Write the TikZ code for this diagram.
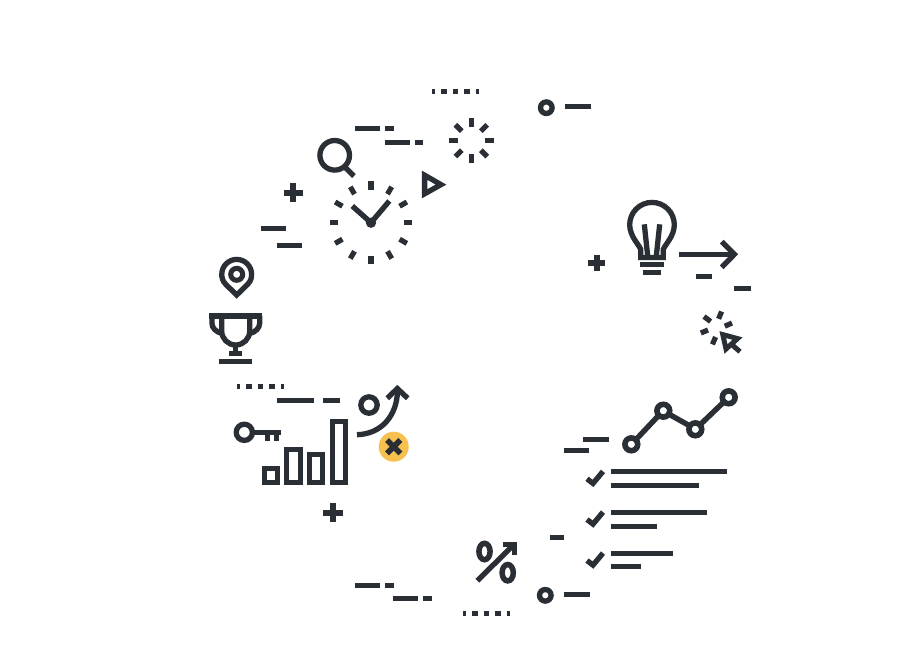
\documentclass[tikz,border=0pt]{standalone}
\definecolor{inkc}{HTML}{2A2E35}
\definecolor{goldc}{HTML}{F7C14F}
\tikzset{
  icon/.style={draw=inkc,line width=5.3pt,fill=none,line cap=butt,line join=miter},
  bar/.style={draw=inkc,line width=5.2pt,line cap=butt},
}
\begin{document}
\begin{tikzpicture}[x=1pt,y=-1pt]
\useasboundingbox[fill=white] (0,0) rectangle (904,654);
% dotted rows
\foreach \y/\x in {91.5/432, 386.5/237, 613.5/463}{
  \foreach \a/\b in {0/2.6, 9/14.7, 20.6/26.3, 32.3/38, 44/46.8}{
    \draw[bar] (\x+\a,\y) -- (\x+\b,\y);
  }
}
% dashes
\draw[bar] (355,128.5) -- (380.3,128.5);
\draw[bar] (385.3,128.5) -- (393.7,128.5);
\draw[bar] (384.7,142.5) -- (410,142.5);
\draw[bar] (415,142.5) -- (423.3,142.5);
\draw[bar] (261,228.5) -- (286.3,228.5);
\draw[bar] (276.7,245.5) -- (302,245.5);
\draw[bar] (276.7,400.5) -- (313.7,400.5);
\draw[bar] (323.3,400.5) -- (340,400.5);
\draw[bar] (565,106.5) -- (591.3,106.5);
\draw[bar] (695.7,276.5) -- (712.3,276.5);
\draw[bar] (734.3,288.5) -- (751,288.5);
\draw[bar] (583.3,439.5) -- (609.3,439.5);
\draw[bar] (563.7,450.5) -- (589.3,450.5);
\draw[bar] (550.3,537.5) -- (563.7,537.5);
\draw[bar] (563.7,594.5) -- (590,594.5);
\draw[bar] (355,585.5) -- (380.3,585.5);
\draw[bar] (385.3,585.5) -- (394,585.5);
\draw[bar] (392.7,598.5) -- (418,598.5);
\draw[bar] (423.3,598.5) -- (431.7,598.5);
% plus signs
\draw[icon,line width=6pt] (283.6,192.7) -- (303,192.7) (293.3,183) -- (293.3,202.4);
\draw[icon,line width=6pt] (323.3,512.7) -- (342.7,512.7) (333,503) -- (333,522.4);
\draw[icon,line width=5.6pt] (588.4,263) -- (605,263) (596.7,254.7) -- (596.7,271.3);
% burst
\foreach \a in {0,45,...,315}{
  \draw[bar] (471.3,140.7) ++(\a:13.5) -- ++(\a:9);
}
% magnifier
\draw[icon] (334.7,155.3) circle (14.8);
\draw[icon] (345,167.3) -- (354,176);
% clock
\foreach \a in {0,30,...,330}{
  \draw[bar] (371,222.7) ++(\a:33) -- ++(\a:8.4);
}
\draw[icon] (352.3,206) -- (371,222.7) -- (389.3,201);
\fill[inkc] (371,222.7) circle (5.2);
% triangle
\draw[icon] (424.6,175.2) -- (441,184.6) -- (424.6,193.8) -- cycle;
% pin
\draw[icon] (236.7,295) -- (226,284.6) .. controls (222,280.5) and (221.8,277) .. (221.8,274.3)
  arc[start angle=180,end angle=360,radius=14.9] .. controls (251.6,277) and (251.4,280.5) .. (247.4,284.6) -- cycle;
\draw[icon,line width=5pt] (236.7,274.3) circle (6);
% trophy
\draw[icon] (209.3,316) -- (262.3,316);
\draw[icon] (221.7,316) -- (221.7,331) arc[start angle=180,end angle=0,radius=14] -- (249.7,316);
\draw[icon] (211.9,316) -- (211.9,323) .. controls (211.9,328) and (216,332) .. (222,333.5);
\draw[icon] (259.7,316) -- (259.7,323) .. controls (259.7,328) and (255.7,332) .. (249.7,333.5);
\draw[icon,line width=5pt] (235.7,345) -- (235.7,352);
\draw[bar] (229.3,353.5) -- (242.3,353.5);
\draw[bar] (219.3,361.5) -- (251.7,361.5);
% key
\draw[icon] (244.3,432.3) circle (8.1);
\draw[icon] (252.5,432.3) -- (281,432.3);
\draw[icon] (267.5,432.3) -- (267.5,440.7);
\draw[icon] (276.5,432.3) -- (276.5,440.7);
% bars
\draw[icon,line width=5pt] (264.5,468.5) rectangle (277.5,482.5);
\draw[icon,line width=5pt] (286.5,449.5) rectangle (300.5,482.5);
\draw[icon,line width=5pt] (309.5,454.5) rectangle (322.5,482.5);
\draw[icon,line width=5pt] (332.5,421.5) rectangle (345.5,482.5);
% growth arrow
\draw[icon] (369,405) circle (8.2);
\draw[icon] (357,434.7) .. controls (382,434) and (397,415) .. (397.5,391);
\draw[icon] (387.3,398.3) -- (397.3,388.5) -- (407.7,398.3);
\fill[goldc] (393.7,446.7) circle (15);
\draw[icon,line width=5.6pt] (387,440) -- (400.4,453.4) (387,453.4) -- (400.4,440);
% top circle and bottom circle
\draw[icon] (546.3,107.7) circle (5.8);
\draw[icon] (545.3,595.3) circle (5.8);
% bulb
\draw[icon] (640.8,257.5) -- (640.8,249.5) .. controls (638.5,244) and (629.7,236) .. (629.7,224.7)
  arc[start angle=180,end angle=360,radius=22.3]
  .. controls (674.3,236) and (665.5,244) .. (663.2,249.5) -- (663.2,257.5) -- cycle;
\draw[icon] (644.3,224.3) -- (647.7,256);
\draw[icon] (659.7,224.3) -- (656.3,256);
\draw[bar] (640,264.5) -- (664,264.5);
\draw[bar] (643,272.5) -- (661,272.5);
% arrow
\draw[icon] (679.3,254.5) -- (734,254.5);
\draw[icon] (721.7,241.7) -- (734.4,254.3) -- (721.7,267.3);
% cursor
\draw[icon,line width=5pt] (722.8,334.6) -- (737.5,338.6) -- (726,349) -- cycle;
\draw[icon,line width=5pt] (730,343) -- (740,351.7);
\draw[bar] (704,316.5) -- (710.6,321.5);
\draw[bar] (721.6,311.5) -- (718.6,318.8);
\draw[bar] (732,323) -- (724.8,326.2);
\draw[bar] (708,330) -- (700.8,333);
\draw[bar] (715.6,337) -- (712.4,344.4);
% chart
\draw[icon,line width=5.4pt] (636,439.5) -- (658.8,415.3);
\draw[icon,line width=5.4pt] (668.7,414) -- (690,426);
\draw[icon,line width=5.4pt] (700,424.8) -- (724,401.8);
\draw[icon,line width=5.6pt] (631.3,444.3) circle (6.4);
\draw[icon,line width=5.6pt] (663.3,410.7) circle (6.4);
\draw[icon,line width=5.6pt] (695.3,429.3) circle (6.4);
\draw[icon,line width=5.6pt] (728.7,397.3) circle (6.4);
% checklist
\foreach \d in {0,40.7,81.7}{
  \draw[icon] (587,478.8+\d) -- (593,483.4+\d) -- (603,471.4+\d);
}
\draw[bar] (611.3,471.5) -- (727.3,471.5);
\draw[bar] (611.3,485.5) -- (699.3,485.5);
\draw[bar] (611.3,512.5) -- (707,512.5);
\draw[bar] (611.3,526.5) -- (657.3,526.5);
\draw[bar] (611.3,553.5) -- (673,553.5);
\draw[bar] (611.3,566.5) -- (641.3,566.5);
% percent
\draw[icon] (477.3,580.7) -- (514,544.5);
\draw[icon] (503.3,544.7) -- (514.5,544.7) -- (514.5,555);
\draw[icon,line width=5.5pt] (484.5,551.5) ellipse (5.6 and 8.2);
\draw[icon,line width=5.5pt] (507.7,572.7) ellipse (5.6 and 8.2);
\end{tikzpicture}
\end{document}
